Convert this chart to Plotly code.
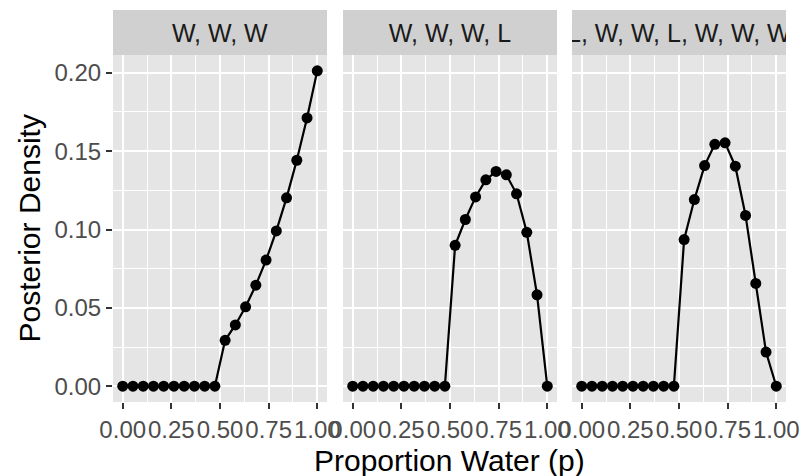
import plotly.graph_objects as go

# Data (grid of 20 points on [0, 1])
p_grid = [0.0, 0.0526, 0.1053, 0.1579, 0.2105, 0.2632, 0.3158, 0.3684, 0.4211, 0.4737,
          0.5263, 0.5789, 0.6316, 0.6842, 0.7368, 0.7895, 0.8421, 0.8947, 0.9474, 1.0]
post_www = [0, 0, 0, 0, 0, 0, 0, 0, 0, 0,
            0.0293, 0.0391, 0.0507, 0.0645, 0.0805, 0.0991, 0.1202, 0.1442, 0.1712, 0.2013]
post_wwwl = [0, 0, 0, 0, 0, 0, 0, 0, 0, 0,
             0.0899, 0.1064, 0.1208, 0.1317, 0.1371, 0.1349, 0.1228, 0.0982, 0.0583, 0.0]
post_lwwlwww = [0, 0, 0, 0, 0, 0, 0, 0, 0, 0,
                0.0936, 0.1191, 0.1408, 0.1544, 0.1553, 0.1404, 0.1090, 0.0656, 0.0218, 0.0]
panel_titles = ["W, W, W", "W, W, W, L", "L, W, W, L, W, W, W"]
x_tick_vals = [0, 0.25, 0.5, 0.75, 1.0]
x_tick_text = ["0.00", "0.25", "0.50", "0.75", "1.00"]
y_tick_vals = [0, 0.05, 0.10, 0.15, 0.20]
y_tick_text = ["0.00", "0.05", "0.10", "0.15", "0.20"]

series = [post_www, post_wwwl, post_lwwlwww]

W, H = 802, 476
ML, MR, MT, MB = 113, 16, 55, 74
plot_w = W - ML - MR
panel_px = [(113, 327), (343, 557), (572, 786)]
domains = [((a - ML) / plot_w, (b - ML) / plot_w) for a, b in panel_px]

PANEL_BG = "#E5E5E5"
STRIP_BG = "#D0D0D0"
FONT = "Liberation Sans, Arial, sans-serif"
TICK_FONT = dict(family=FONT, size=24, color="#4D4D4D")

fig = go.Figure()
ymax = 0.2013
yrange = [-0.05 * ymax, ymax * 1.05]

for i, ys in enumerate(series):
    sfx = "" if i == 0 else str(i + 1)
    fig.add_trace(go.Scatter(
        x=p_grid, y=ys, mode="lines+markers",
        line=dict(color="black", width=2.2),
        marker=dict(color="black", size=11),
        xaxis="x" + sfx, yaxis="y" + sfx, showlegend=False, cliponaxis=False,
    ))
    xa = dict(
        domain=list(domains[i]), range=[-0.05, 1.05], anchor="y" + sfx,
        tickvals=x_tick_vals, ticktext=x_tick_text, tickangle=0,
        showgrid=True, gridcolor="white", gridwidth=2.2,
        minor=dict(dtick=0.125, tick0=0, showgrid=True, gridcolor="white", gridwidth=1.1),
        ticks="outside", ticklen=6, tickwidth=2, tickcolor="#333333",
        tickfont=TICK_FONT, zeroline=False, showline=False, fixedrange=True,
    )
    ya = dict(
        domain=[0, 1], range=yrange, anchor="x" + sfx,
        tickvals=y_tick_vals, ticktext=y_tick_text,
        showgrid=True, gridcolor="white", gridwidth=2.2,
        minor=dict(dtick=0.025, tick0=0, showgrid=True, gridcolor="white", gridwidth=1.1),
        zeroline=False, showline=False, fixedrange=True,
    )
    if i == 0:
        ya.update(ticks="outside", ticklen=6, tickwidth=2, tickcolor="#333333",
                  tickfont=TICK_FONT, showticklabels=True)
    else:
        ya.update(showticklabels=False, ticks="")
    fig.layout["xaxis" + sfx] = xa
    fig.layout["yaxis" + sfx] = ya

shapes = []
annotations = []
for i, (d0, d1) in enumerate(domains):
    shapes.append(dict(type="rect", xref="paper", yref="paper", x0=d0, x1=d1, y0=0, y1=1,
                       fillcolor=PANEL_BG, line=dict(width=0), layer="below"))
    annotations.append(dict(
        text=panel_titles[i], xref="paper", yref="paper", x=(d0 + d1) / 2, y=1,
        xanchor="center", yanchor="bottom", showarrow=False,
        width=panel_px[i][1] - panel_px[i][0], height=45, bgcolor=STRIP_BG,
        borderpad=0, borderwidth=0,
        font=dict(family=FONT, size=25, color="#1A1A1A"),
    ))

annotations.append(dict(
    text="Posterior Density", xref="paper", yref="paper",
    x=(29 - ML) / plot_w, y=0.5, xanchor="center", yanchor="middle",
    textangle=-90, showarrow=False, font=dict(family=FONT, size=30, color="black"),
))
annotations.append(dict(
    text="Proportion Water (p)", xref="paper", yref="paper",
    x=0.5, y=0, yshift=-58, xanchor="center", yanchor="middle",
    showarrow=False, font=dict(family=FONT, size=30, color="black"),
))

fig.update_layout(
    width=W, height=H, margin=dict(l=ML, r=MR, t=MT, b=MB, autoexpand=False),
    paper_bgcolor="white", plot_bgcolor=PANEL_BG,
    shapes=shapes, annotations=annotations, showlegend=False,
)

fig.write_html("out.html", config={"displayModeBar": False})
